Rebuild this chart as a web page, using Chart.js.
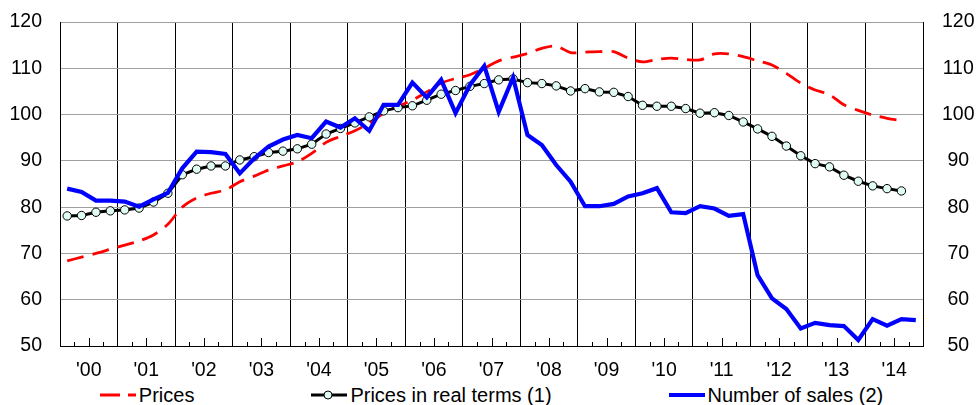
<!DOCTYPE html>
<html>
<head>
<meta charset="utf-8">
<script src="https://cdn.jsdelivr.net/npm/chart.js@4.4.1/dist/chart.umd.min.js"></script>
<style>
  body { margin: 0; background: #fff; font-family: 'Liberation Sans', Arial, sans-serif; }
  #wrap { position: relative; width: 977px; height: 380px; }
  #legend { display: flex; justify-content: center; gap: 117px; height: 30px; align-items: center; font-size: 20px; color: #000; padding-left: 6px; }
  .item { display: flex; align-items: center; }
  .item svg { margin-right: 3px; }
</style>
</head>
<body>
<div id="wrap"><canvas id="chart"></canvas></div>
<div id="legend"></div>
<script>
const years = ["'00", "'01", "'02", "'03", "'04", "'05", "'06", "'07", "'08", "'09", "'10", "'11", "'12", "'13", "'14"];
const yTicks = [50, 60, 70, 80, 90, 100, 110, 120];

// quarterly, 2000 Q1 onwards
const prices = [68.4, 69.2, 70.0, 70.9, 71.8, 72.7, 74.0, 76.3, 80.0, 82.0,
  83.0, 83.7, 85.5, 86.7, 88.0, 88.9, 89.8, 91.6, 94.0, 95.3,
  96.5, 98.2, 100.3, 101.8, 103.1, 104.9, 106.8, 107.8, 108.6, 110.0,
  111.6, 112.4, 113.2, 114.3, 114.8, 113.4, 113.5, 113.6, 113.6, 112.2,
  111.4, 111.9, 112.2, 111.9, 111.8, 113.1, 113.1, 112.5, 111.6, 110.7,
  108.9, 106.8, 105.3, 104.3, 102.1, 100.9, 99.9, 99.2, 98.7];
const realPrices = [78.1, 78.2, 78.9, 79.2, 79.4, 79.8, 81.1, 83.0, 87.0, 88.2,
  88.9, 88.9, 90.2, 90.9, 91.8, 92.1, 92.6, 93.6, 95.8, 97.0,
  98.2, 99.5, 100.8, 101.5, 101.9, 103.1, 104.4, 105.2, 106.1, 106.7,
  107.5, 107.7, 106.9, 106.7, 106.2, 105.1, 105.6, 104.9, 104.8, 103.9,
  102.0, 101.8, 101.8, 101.3, 100.3, 100.4, 99.8, 98.4, 96.9, 95.3,
  93.2, 91.1, 89.4, 88.7, 86.9, 85.6, 84.6, 84.0, 83.5];
const sales = [84.0, 83.3, 81.4, 81.4, 81.2, 80.1, 81.7, 83.1, 88.4, 92.0,
  91.9, 91.5, 87.3, 90.5, 93.1, 94.6, 95.6, 94.9, 98.5, 97.2,
  99.2, 96.5, 102.1, 102.1, 106.9, 103.7, 107.5, 100.3, 106.4, 110.5,
  100.6, 108.0, 95.6, 93.4, 89.1, 85.5, 80.2, 80.2, 80.7, 82.3,
  83.0, 84.1, 78.9, 78.7, 80.2, 79.7, 78.1, 78.5, 65.3, 60.3,
  58.0, 53.8, 55.0, 54.5, 54.3, 51.3, 55.8, 54.4, 55.8, 55.6];

const RED = '#ff0000';
const BLUE = '#0000ff';
const MINT = '#e0fbf3';
const FONT = { family: "'Liberation Sans', Arial, sans-serif", size: 19.5 };
const quarterCount = years.length * 4;

const toPoints = arr => arr.map((v, i) => ({ x: i, y: v }));
const isYearEdge = v => Math.abs(((v + 0.5) % 4 + 4) % 4) < 1e-6;
const isYearMid = v => Math.abs(((v - 1.5) % 4 + 4) % 4) < 1e-6;

// short tick marks inside the plot along the bottom axis
const innerTicks = {
  id: 'innerTicks',
  beforeDatasetsDraw(chart) {
    const { ctx, scales: { x }, chartArea } = chart;
    ctx.save();
    ctx.strokeStyle = '#000';
    ctx.lineWidth = 1;
    for (let q = 1; q < quarterCount; q++) {
      if (q % 4 === 0) continue;
      const px = Math.round(x.getPixelForValue(q - 0.5)) + 0.5;
      const len = q % 4 === 2 ? 8 : 4;
      ctx.beginPath();
      ctx.moveTo(px, chartArea.bottom);
      ctx.lineTo(px, chartArea.bottom - len);
      ctx.stroke();
    }
    ctx.restore();
  }
};

function yAxis(position) {
  return {
    type: 'linear',
    position,
    min: 50,
    max: 120,
    afterBuildTicks: s => { s.ticks = yTicks.map(v => ({ value: v })); },
    afterFit: s => {
      s.width = position === 'left' ? 60 : 54;
      s.paddingTop = 0;
      s.paddingBottom = 0;
    },
    grid: { display: position === 'left', color: '#a0a0a0', lineWidth: 1, drawTicks: false },
    border: { display: true, color: '#000', width: 1 },
    ticks: {
      font: FONT,
      color: '#000',
      padding: position === 'left' ? 18 : 19,
      crossAlign: position === 'left' ? 'near' : 'center'
    }
  };
}

new Chart(document.getElementById('chart'), {
  type: 'line',
  data: {
    datasets: [
      {
        label: 'Prices',
        data: toPoints(prices),
        borderColor: RED,
        borderWidth: 2.8,
        borderDash: [17, 9],
        pointRadius: 0,
        tension: 0.3,
        order: 2
      },
      {
        label: 'Prices in real terms (1)',
        data: toPoints(realPrices),
        borderColor: '#000',
        borderWidth: 3,
        pointRadius: 4.2,
        pointBackgroundColor: MINT,
        pointBorderColor: '#000',
        pointBorderWidth: 1,
        tension: 0,
        order: 1
      },
      {
        label: 'Number of sales (2)',
        data: toPoints(sales),
        borderColor: BLUE,
        borderWidth: 4.2,
        pointRadius: 0,
        tension: 0,
        order: 0
      }
    ]
  },
  options: {
    responsive: true,
    maintainAspectRatio: false,
    animation: false,
    layout: { padding: { top: 22, left: 0, right: 0, bottom: 0 } },
    plugins: { legend: { display: false }, tooltip: { enabled: false } },
    scales: {
      x: {
        type: 'linear',
        min: -0.5,
        max: quarterCount - 0.5,
        afterBuildTicks: s => {
          s.ticks = Array.from({ length: quarterCount / 2 + 1 }, (_, k) => ({ value: -0.5 + 2 * k }));
        },
        afterFit: s => {
          s.height = 34;
          s.paddingLeft = 0;
          s.paddingRight = 0;
        },
        grid: {
          color: c => (c.tick && isYearEdge(c.tick.value)) ? '#000' : 'rgba(0,0,0,0)',
          lineWidth: 1,
          drawTicks: false
        },
        border: { display: true, color: '#000', width: 1 },
        ticks: {
          font: FONT,
          color: '#000',
          padding: 13,
          autoSkip: false,
          maxRotation: 0,
          callback: v => isYearMid(v) ? years[(v - 1.5) / 4] : ''
        }
      },
      y: yAxis('left'),
      y2: yAxis('right')
    }
  },
  plugins: [innerTicks]
});

const legendItems = [
  { label: 'Prices', svg: `<line x1="0" y1="7" x2="36" y2="7" stroke="${RED}" stroke-width="2.8" stroke-dasharray="20 8"/>` },
  { label: 'Prices in real terms (1)', svg: `<line x1="0" y1="7" x2="36" y2="7" stroke="#000" stroke-width="3"/><circle cx="17" cy="7" r="4" fill="${MINT}" stroke="#000" stroke-width="1"/>` },
  { label: 'Number of sales (2)', svg: `<line x1="0" y1="7" x2="36" y2="7" stroke="${BLUE}" stroke-width="4.2"/>` }
];
document.getElementById('legend').innerHTML = legendItems.map(item => `
  <div class="item"><svg width="36" height="14">${item.svg}</svg><span>${item.label}</span></div>
`).join('');
</script>
</body>
</html>
